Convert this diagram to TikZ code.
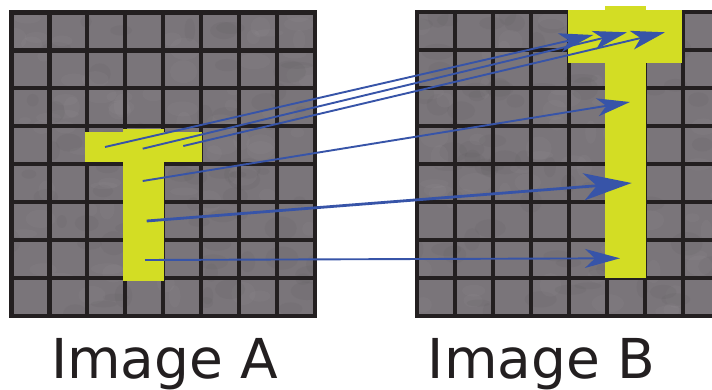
\documentclass[tikz,border=0pt]{standalone}
\usepackage{fontspec}
\setmainfont{DejaVu Sans}
\usetikzlibrary{arrows.meta}

\definecolor{gridline}{RGB}{35,31,32}
\definecolor{cellgray}{RGB}{122,117,122}
\definecolor{celllight}{RGB}{150,145,150}
\definecolor{celldark}{RGB}{95,92,95}
\definecolor{tyellow}{RGB}{211,221,36}
\definecolor{arrowblue}{RGB}{55,84,168}
\definecolor{labelink}{RGB}{35,31,32}

\tikzset{
  gridrule/.style={draw=gridline, line width=4.2pt, line cap=rect},
  tshape/.style={fill=tyellow},
  mapline/.style={draw=arrowblue, line width=1.9pt},
  maptip/.style={-{Stealth[length=34pt,width=19pt,inset=9pt]}},
  bigtip/.style={-{Stealth[length=48pt,width=27pt,inset=13pt]}},
  lowtip/.style={-{Stealth[length=35pt,width=19pt,inset=10pt]}},
  caption/.style={text=labelink, font=\fontsize{55}{60}\selectfont, inner sep=0pt, anchor=base}
}

% one textured 8x8 tile grid with its top-left line centre at (#1,#2)
\newcommand{\tilegrid}[2]{%
  \begin{scope}
    \clip (#1,#2) rectangle ++(303.2,303.2);
    \fill[cellgray] (#1,#2) rectangle ++(303.2,303.2);
    \foreach \k in {1,...,140} {
      \pgfmathsetmacro\bx{#1+rnd*303.2}
      \pgfmathsetmacro\by{#2+rnd*303.2}
      \pgfmathsetmacro\rx{5+rnd*12}
      \pgfmathsetmacro\ry{3+rnd*9}
      \pgfmathsetmacro\sel{rnd}
      \ifdim\sel pt<0.5pt
        \fill[celllight, opacity=0.14] (\bx,\by) ellipse [x radius=\rx, y radius=\ry];
      \else
        \fill[celldark, opacity=0.14] (\bx,\by) ellipse [x radius=\rx, y radius=\ry];
      \fi
    }
  \end{scope}
  \foreach \i in {0,...,8} {
    \draw[gridrule] ({#1+37.9*\i},#2) -- ({#1+37.9*\i},{#2+303.2});
    \draw[gridrule] (#1,{#2+37.9*\i}) -- ({#1+303.2},{#2+37.9*\i});
  }
}

\begin{document}
\begin{tikzpicture}[x=1pt,y=-1pt]
  \useasboundingbox (0,0) rectangle (712,390);
  \fill[white] (0,0) rectangle (712,390);
  \pgfmathsetseed{4211}

  \begin{scope}
    \clip (0,0) rectangle (712,390);

    % left tile grid and its T
    \tilegrid{11.5}{12.6}
    \fill[tshape] (85,131.7) rectangle (201.7,161.7);
    \fill[tshape] (123.3,129.3) rectangle (164,280.7);

    % right tile grid (runs past the right edge) and its stretched T
    \tilegrid{417.3}{12.4}
    \fill[tshape] (567.7,10) rectangle (682.3,63.3);
    \fill[tshape] (605,6) rectangle (645.5,277.5);
  \end{scope}

  % sample points in image A
  \coordinate (a1) at (105,147);
  \coordinate (a2) at (142.7,148.7);
  \coordinate (a3) at (183.3,146);
  \coordinate (a4) at (142.7,181);
  \coordinate (a5) at (146.7,221);
  \coordinate (a6) at (145,260);

  % matching points in image B
  \coordinate (b1) at (593.3,35);
  \coordinate (b2) at (627,32.3);
  \coordinate (b3) at (665,32.3);
  \coordinate (b4) at (630,102);
  \coordinate (b5) at (631.7,183);
  \coordinate (b6) at (620,258.3);

  \draw[mapline, maptip] (a1) -- (b1);
  \draw[mapline, maptip] (a2) -- (b2);
  \draw[mapline, maptip] (a3) -- (b3);
  \draw[mapline, -{Stealth[length=33pt,width=18pt,inset=9pt]}] (a4) -- (b4);
  \draw[mapline, line width=2.8pt, bigtip] (a5) -- (b5);
  \draw[mapline, lowtip] (a6) -- (b6);

  \node[caption] (capA) at (164.7,378.3) {Image A};
  \node[caption] (capB) at (541.7,378.3) {Image B};
\end{tikzpicture}
\end{document}
